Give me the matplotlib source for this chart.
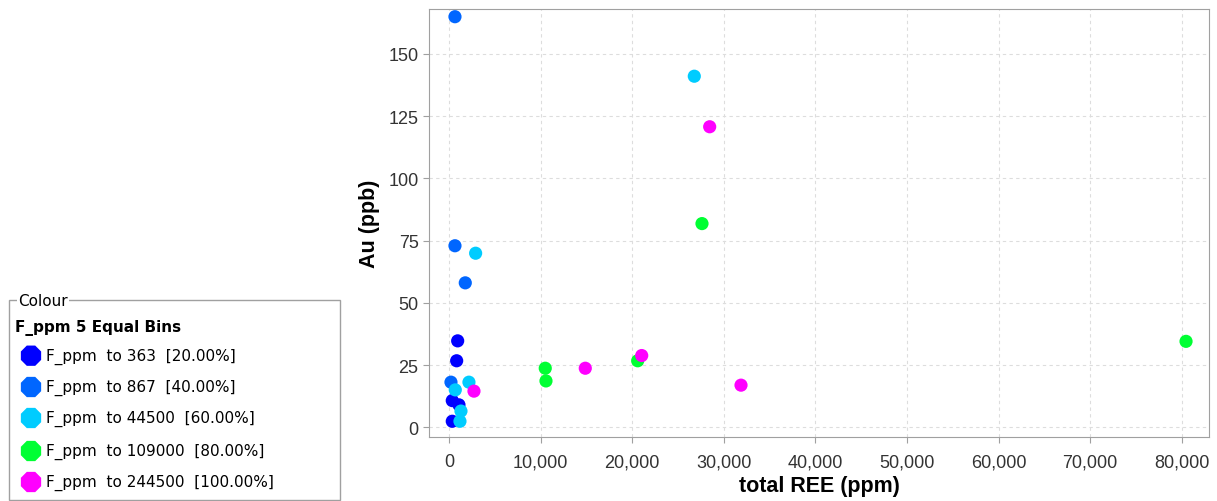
import numpy as np
import matplotlib
matplotlib.use("Agg")
from matplotlib import pyplot as plt
from matplotlib.ticker import FuncFormatter, MultipleLocator
from matplotlib.patches import Rectangle

# bins of F_ppm (legend) and their colours
bin_labels = ["F_ppm  to 363  [20.00%]",
              "F_ppm  to 867  [40.00%]",
              "F_ppm  to 44500  [60.00%]",
              "F_ppm  to 109000  [80.00%]",
              "F_ppm  to 244500  [100.00%]"]
bin_colors = ["#0000ff", "#0066ff", "#00ccff", "#00ff33", "#ff00ff"]

# total REE (ppm) and Au (ppb) per bin
ree_bin1 = [950, 840, 360, 1090, 360]
au_bin1 = [34.7, 26.7, 10.7, 9.0, 2.4]
ree_bin2 = [655, 655, 1780, 218]
au_bin2 = [164.9, 72.9, 58.0, 18.1]
ree_bin3 = [26780, 2910, 690, 2180, 1310, 1200]
au_bin3 = [141.0, 69.9, 15.0, 18.1, 6.5, 2.4]
ree_bin4 = [27620, 80460, 10510, 10590, 20600]
au_bin4 = [81.8, 34.5, 23.7, 18.6, 26.7]
ree_bin5 = [28460, 31880, 14880, 21040, 2730]
au_bin5 = [120.7, 16.9, 23.7, 28.8, 14.5]

ree = [ree_bin1, ree_bin2, ree_bin3, ree_bin4, ree_bin5]
au = [au_bin1, au_bin2, au_bin3, au_bin4, au_bin5]

W, H = 1217, 502
fig = plt.figure(figsize=(W / 100, H / 100), dpi=100)
plt.rcParams['font.family'] = ['Liberation Sans', 'DejaVu Sans']

ax = fig.add_axes([429 / W, 1 - 437.7 / H, (1209.3 - 429) / W, (437.7 - 10) / H])
for xs, ys, c in zip(ree, au, bin_colors):
    ax.scatter(xs, ys, s=90, color=c, edgecolors='none', zorder=3)

ax.set_xlim(-2180, 83000)
ax.set_ylim(-3.8, 168)
ax.xaxis.set_major_locator(MultipleLocator(10000))
ax.yaxis.set_major_locator(MultipleLocator(25))
ax.xaxis.set_major_formatter(FuncFormatter(lambda v, p: "{:,.0f}".format(v)))
ax.grid(True, color='#dddddd', linestyle=(0, (3, 3)), linewidth=0.8)
ax.set_axisbelow(True)
for sp in ax.spines.values():
    sp.set_color('#a0a0a0')
ax.tick_params(colors='#a0a0a0', labelcolor='#333333', labelsize=13, length=4)
ax.tick_params(axis='x', pad=8)
ax.set_xlabel("total REE (ppm)", fontsize=15.5, fontweight='bold', labelpad=3)
ax.set_ylabel("Au (ppb)", fontsize=15.5, fontweight='bold', labelpad=6)

# legend panel drawn in pixel coordinates
lg = fig.add_axes([0, 0, 1, 1], facecolor='none')
lg.set_xlim(0, W)
lg.set_ylim(H, 0)
lg.axis('off')
lg.add_patch(Rectangle((8.5, 301), 331, 199.5, fill=False, edgecolor='#a0a0a0', linewidth=1))
lg.text(18, 302, "Colour", fontsize=11, family='DejaVu Sans', va='center', ha='left',
        bbox=dict(facecolor='white', edgecolor='none', pad=1))
lg.text(15, 328, "F_ppm 5 Equal Bins", fontsize=11, family='DejaVu Sans', fontweight='bold',
        va='center', ha='left')
ys_leg = [356.7, 388, 419, 452, 483]
for yy, lab, c in zip(ys_leg, bin_labels, bin_colors):
    lg.scatter([31], [yy], s=250, marker='8', color=c, edgecolors='none')
    lg.text(46, yy, lab, fontsize=11, family='DejaVu Sans', va='center', ha='left')

fig.savefig("out.png", dpi=100)
